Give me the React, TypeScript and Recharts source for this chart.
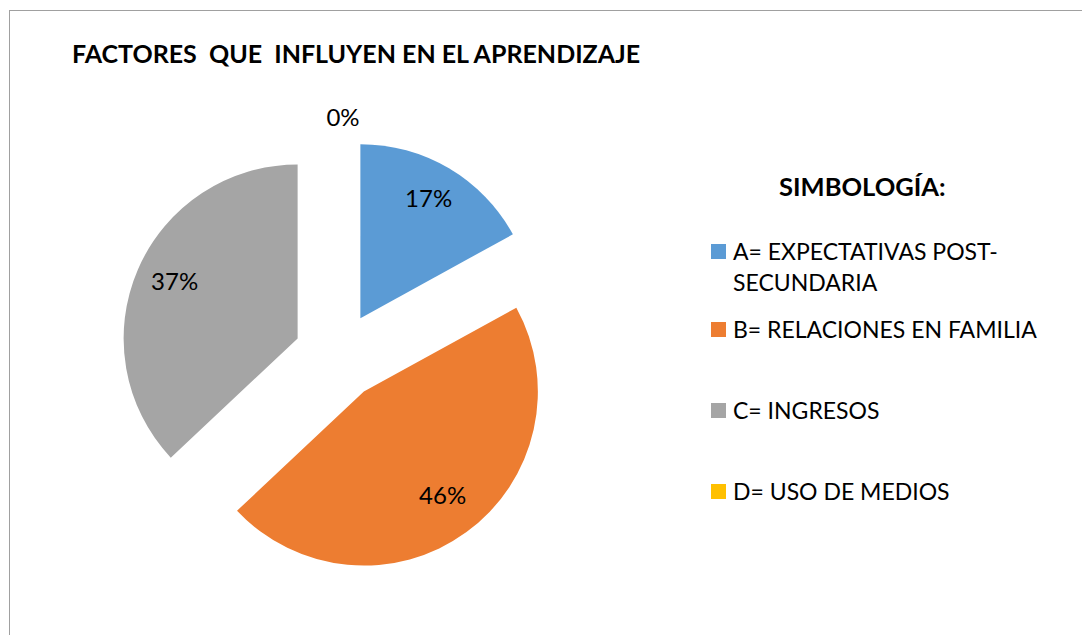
import React from 'react';
import { PieChart, Pie, Cell, Legend, Sector } from 'recharts';

const categories = ['A', 'B', 'C', 'D'];
const legendLabels = [
  ['A= EXPECTATIVAS POST-', 'SECUNDARIA'],
  ['B= RELACIONES EN FAMILIA'],
  ['C= INGRESOS'],
  ['D= USO DE MEDIOS'],
];
const percentages = [17, 46, 37, 0];
const sliceColors = ['#5B9BD5', '#ED7D31', '#A5A5A5', '#FFC000'];

const chartTitle = 'FACTORES\u00a0 QUE\u00a0 INFLUYEN EN EL APRENDIZAJE';
const legendTitle = 'SIMBOLOGÍA:';

const FONT = 'Lato, "Liberation Sans", sans-serif';
const EXPLODE = 44;
const RADIAN = Math.PI / 180;

const pieData = categories.map((name, i) => ({
  name,
  value: percentages[i],
  lines: legendLabels[i],
}));

// pull every slice away from the centre along its mid angle
const ExplodedSector = (props: any) => {
  const { cx, cy, midAngle, innerRadius, outerRadius, startAngle, endAngle, fill } = props;
  const dx = EXPLODE * Math.cos(-midAngle * RADIAN);
  const dy = EXPLODE * Math.sin(-midAngle * RADIAN);
  return (
    <Sector
      cx={cx + dx}
      cy={cy + dy}
      innerRadius={innerRadius}
      outerRadius={outerRadius}
      startAngle={startAngle}
      endAngle={endAngle}
      fill={fill}
      stroke="none"
    />
  );
};

const renderLabel = (props: any) => {
  const { cx, cy, midAngle, outerRadius, value } = props;
  const r = value === 0 ? EXPLODE + outerRadius + 22 : EXPLODE + outerRadius * 0.77;
  const x = cx + r * Math.cos(-midAngle * RADIAN);
  const y = cy + r * Math.sin(-midAngle * RADIAN);
  return (
    <text
      x={value === 0 ? x + 5 : x}
      y={value === 0 ? y : y - 5}
      textAnchor="middle"
      dominantBaseline="central"
      fill="#000"
      fontSize={24}
      fontFamily={FONT}
    >
      {`${value}%`}
    </text>
  );
};

const renderLegend = (props: any) => {
  const { payload } = props;
  return (
    <div style={{ fontFamily: FONT, fontSize: 23, color: '#000' }}>
      {(payload || []).map((entry: any, index: number) => {
        const lines: string[] = entry.payload?.lines || [entry.value];
        return (
          <div
            key={`item-${index}`}
            style={{ display: 'flex', alignItems: 'flex-start', height: index === 0 ? 78 : 81 }}
          >
            <span
              style={{
                display: 'inline-block',
                width: 15,
                height: 15,
                background: entry.color,
                marginTop: 8,
                marginRight: 7,
                flex: 'none',
              }}
            />
            <div style={{ lineHeight: '31px' }}>
              {lines.map((line, j) => (
                <div key={j}>{line}</div>
              ))}
            </div>
          </div>
        );
      })}
    </div>
  );
};

export default function App() {
  return (
    <div
      style={{
        position: 'absolute',
        left: 0,
        top: 0,
        width: 1082,
        height: 635,
        overflow: 'hidden',
        background: '#fff',
      }}
    >
      <div
        style={{
          position: 'absolute',
          left: 9,
          top: 10,
          width: 1200,
          height: 800,
          border: '1px solid #a0a0a0',
        }}
      />
      <div
        style={{
          position: 'absolute',
          left: 72,
          top: 38,
          lineHeight: '30px',
          fontFamily: FONT,
          fontWeight: 'bold',
          fontSize: 25,
          whiteSpace: 'pre',
          color: '#000',
        }}
      >
        {chartTitle}
      </div>
      <div
        style={{
          position: 'absolute',
          left: 779,
          top: 171,
          lineHeight: '30px',
          fontFamily: FONT,
          fontWeight: 'bold',
          fontSize: 25.5,
          color: '#000',
        }}
      >
        {legendTitle}
      </div>
      <div style={{ position: 'absolute', left: 0, top: 0 }}>
        <PieChart width={1082} height={635} margin={{ top: 0, right: 0, bottom: 0, left: 0 }}>
          <Pie
            data={pieData}
            dataKey="value"
            nameKey="name"
            cx={338}
            cy={356}
            outerRadius={174}
            startAngle={90}
            endAngle={-270}
            stroke="none"
            shape={ExplodedSector}
            activeShape={ExplodedSector}
            inactiveShape={ExplodedSector}
            label={renderLabel}
            labelLine={false}
            isAnimationActive={false}
          >
            {pieData.map((entry, index) => (
              <Cell key={`cell-${entry.name}`} fill={sliceColors[index]} />
            ))}
          </Pie>
          <Legend
            layout="vertical"
            align="right"
            verticalAlign="top"
            content={renderLegend}
            wrapperStyle={{ left: 711, top: 236, width: 365 }}
          />
        </PieChart>
      </div>
    </div>
  );
}
